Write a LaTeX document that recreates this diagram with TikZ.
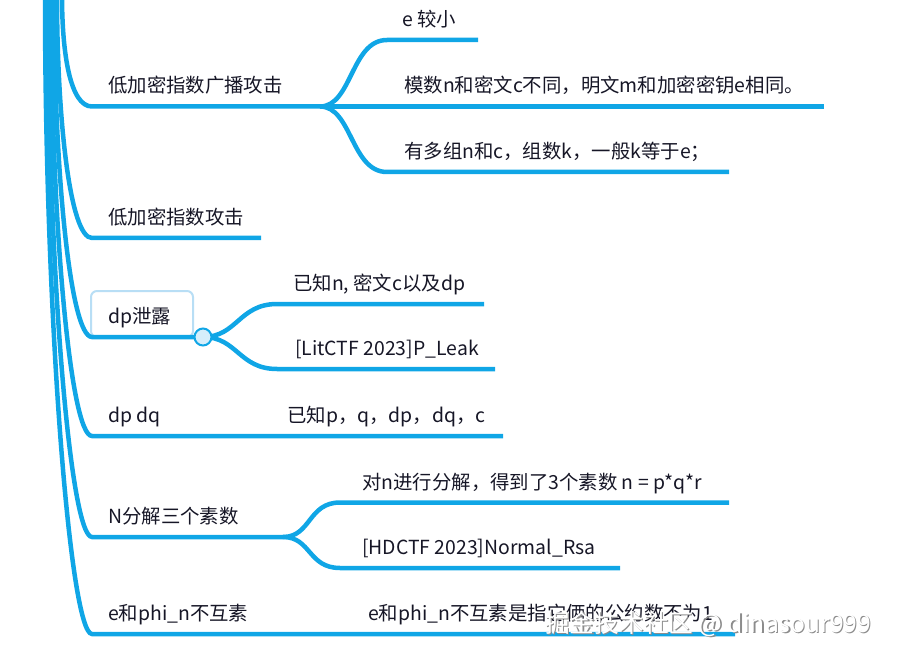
\documentclass[tikz,border=0pt]{standalone}
\usepackage{fontspec}
\setmainfont{Noto Sans CJK SC}

\definecolor{branch}{RGB}{16,166,230}
\definecolor{boxedge}{RGB}{184,222,245}
\definecolor{knobfill}{RGB}{214,238,251}
\definecolor{ink}{RGB}{22,22,38}

\tikzset{
  line/.style={draw=branch, line width=4.5pt},
  txt/.style={anchor=base west, inner sep=0pt, text=ink, font=\fontsize{19.4}{23}\selectfont},
  knob/.style={circle, draw=branch, fill=knobfill, line width=2pt, minimum size=17pt, inner sep=0pt},
}

\begin{document}
\begin{tikzpicture}[x=1pt, y=-1pt]
    \useasboundingbox (0,0) rectangle (898,658);

    % points where the branches leave the trunk and where they split
    \coordinate (bcast) at (320,106.5);
    \coordinate (dpfork) at (203,337);
    \coordinate (nfork) at (283,537);

    % box round dp leak
    \draw[boxedge, line width=2pt, rounded corners=6pt, fill=white] (91,291) rectangle (193,337);

    % branches from the root above
    \draw[line] (62,-5) .. controls (62,53) and (70,106.5) .. (92,106.5) -- (bcast);
    \draw[line] (57,-5) .. controls (57,119) and (70,238) .. (92,238) -- (261,238);
    \draw[line] (54,-5) .. controls (54,168) and (70,337) .. (92,337) -- (dpfork);
    \draw[line] (51,-5) .. controls (51,218) and (70,436) .. (92,436) -- (503,436);
    \draw[line] (48,-5) .. controls (48,268) and (70,537) .. (92,537) -- (nfork);
    \draw[line] (45,-5) .. controls (45,317) and (70,634) .. (92,634) -- (735,634);

    % broadcast attack
    \draw[line] (bcast) .. controls +(32,0) and +(-36,0) .. (387,40) -- (478,40);
    \draw[line] (bcast) -- (824,106.5);
    \draw[line] (bcast) .. controls +(32,0) and +(-36,0) .. (387,172) -- (729,172);

    % dp leak
    \draw[line] (dpfork) .. controls +(34,0) and +(-38,0) .. (277,304) -- (484,304);
    \draw[line] (dpfork) .. controls +(34,0) and +(-38,0) .. (277,369) -- (495,369);
    \node[knob] (dpknob) at (dpfork) {};

    % N into three primes
    \draw[line] (nfork) .. controls +(28,0) and +(-32,0) .. (340,502.5) -- (729,502.5);
    \draw[line] (nfork) .. controls +(28,0) and +(-32,0) .. (340,568) -- (620,568);

    \node[txt] (bcastT) at (108,93) {低加密指数广播攻击};
    \node[txt] (esmall) at (402,26.5) {e 较小};
    \node[txt] (samem) at (404,93) {模数n和密文c不同，明文m和加密密钥e相同。};
    \node[txt] (groups) at (404,158.5) {有多组n和c，组数k，一般k等于e；};
    \node[txt] (lowexp) at (108,224.5) {低加密指数攻击};
    \node[txt] (dpleak) at (108,323.5) {dp泄露};
    \node[txt] (dpknown) at (293,290.5) {已知n, 密文c以及dp};
    \node[txt] (pleak) at (295,355.5) {[LitCTF 2023]P\_Leak};
    \node[txt] (dpdq) at (108,422.5) {dp dq};
    \node[txt] (dpdqknown) at (287,422.5) {已知p，q，dp，dq，c};
    \node[txt] (nthree) at (108,523.5) {N分解三个素数};
    \node[txt] (nsplit) at (362,489) {对n进行分解，得到了3个素数 n = p*q*r};
    \node[txt] (normal) at (362,554.5) {[HDCTF 2023]Normal\_Rsa};
    \node[txt] (ephi) at (108,620.5) {e和phi\_n不互素};
    \node[txt] (ephinote) at (368,620.5) {e和phi\_n不互素是指它俩的公约数不为1};

    % watermark
    \node[txt, text=black!45, font=\fontsize{24.7}{28}\selectfont] (markshade) at (546.2,633.2) {掘金技术社区 @ dinasour999};
    \node[txt, text=white, font=\fontsize{24.7}{28}\selectfont] (mark) at (545,632) {掘金技术社区 @ dinasour999};
\end{tikzpicture}
\end{document}
